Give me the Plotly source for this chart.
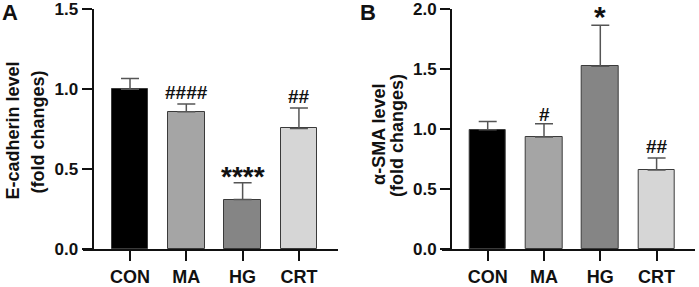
import plotly.graph_objects as go

categories = ["CON", "MA", "HG", "CRT"]
ecad_mean = [1.00, 0.86, 0.31, 0.755]
ecad_err = [0.068, 0.048, 0.105, 0.128]
ecad_marks = ["", "####", "****", "##"]
sma_mean = [0.995, 0.936, 1.527, 0.66]
sma_err = [0.07, 0.11, 0.342, 0.10]
sma_marks = ["", "#", "*", "##"]
bar_colors = ["#000000", "#a5a5a5", "#858585", "#d6d6d6"]

W, H = 699, 287
MT, MB = 9, 34
PH = H - MT - MB
FONT = "Liberation Sans, Arial, sans-serif"

fig = go.Figure()

def add_panel(xa, ya, means, errs):
    fig.add_trace(go.Bar(
        x=categories, y=means, width=0.65,
        marker=dict(color=bar_colors, line=dict(color="#3a3a3a", width=1)),
        error_y=dict(type="data", symmetric=False, array=errs,
                     arrayminus=[0] * len(errs), color="#555555",
                     thickness=1.5, width=9),
        xaxis=xa, yaxis=ya, showlegend=False))

add_panel("x", "y", ecad_mean, ecad_err)
add_panel("x2", "y2", sma_mean, sma_err)

xtickfont = dict(family=FONT, size=18, color="#111", weight="bold")
ytickfont = dict(family=FONT, size=17, color="#111", weight="bold")

def xax(left, right, rng, yname):
    return dict(domain=[left / W, right / W], range=rng, anchor=yname,
                showline=True, linecolor="#111", linewidth=2,
                ticks="outside", ticklen=10, tickwidth=2, tickcolor="#111",
                tickfont=xtickfont, showgrid=False, zeroline=False,
                categoryorder="array", categoryarray=categories)

def yax(pos_px, rng, tickvals):
    return dict(domain=[0, 1], range=rng, anchor="free", position=pos_px / W,
                showline=True, linecolor="#111", linewidth=2,
                ticks="outside", ticklen=10, tickwidth=2, tickcolor="#111",
                tickfont=ytickfont, tickmode="array", tickvals=tickvals,
                ticktext=[f"{v:.1f}" for v in tickvals],
                showgrid=False, zeroline=False)

annotations = []

def label(x_px, y_px, text, size, angle=0):
    annotations.append(dict(x=x_px / W, y=(H - MB - y_px) / PH,
                            xref="paper", yref="paper", text=text,
                            showarrow=False, textangle=angle,
                            xanchor="center", yanchor="middle",
                            font=dict(family=FONT, size=size, color="#111",
                                      weight="bold")))

label(9.5, 12.5, "A", 22)
label(368, 12.5, "B", 22)
label(12.5, 133, "E-cadherin level", 18, -90)
label(37.5, 134, "(fold changes)", 18, -90)
label(379, 137, "α-SMA level", 18, -90)
label(397, 138, "(fold changes)", 18, -90)

def marks(xa, ya, means, errs, texts, sizes, shifts):
    for c, m, e, t, s, sh in zip(categories, means, errs, texts, sizes, shifts):
        if t:
            annotations.append(dict(x=c, y=m + e, xref=xa, yref=ya, text=t,
                                    showarrow=False, yanchor="bottom",
                                    yshift=sh,
                                    font=dict(family=FONT, size=s, color="#111",
                                              weight="bold")))

marks("x", "y", ecad_mean, ecad_err, ecad_marks, [0, 19, 28, 19], [0, -1, -11, -1])
marks("x2", "y2", sma_mean, sma_err, sma_marks, [0, 19, 30, 19], [0, -3, -10, -1])

fig.update_layout(
    width=W, height=H,
    margin=dict(l=0, r=0, t=MT, b=MB),
    paper_bgcolor="white", plot_bgcolor="white",
    xaxis=xax(83, 338, [-0.835, 3.694], "y"),
    yaxis=yax(92.5, [0, 1.503], [0.0, 0.5, 1.0, 1.5]),
    xaxis2=xax(441.7, 695, [-0.817, 3.682], "y2"),
    yaxis2=yax(451, [0, 2.004], [0.0, 0.5, 1.0, 1.5, 2.0]),
    annotations=annotations,
    bargap=0,
)

fig.write_html("out.html", config={"displayModeBar": False},
               post_script="document.body.style.margin='0';document.body.style.padding='0';")
